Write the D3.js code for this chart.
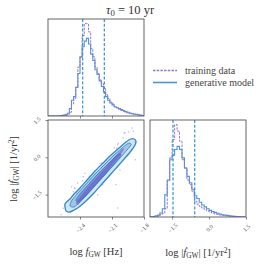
<!DOCTYPE html>
<html><head><meta charset="utf-8">
<script src="https://cdn.jsdelivr.net/npm/d3@7"></script>
<style>body{margin:0;background:#fff}</style>
</head><body>
<svg id="c" width="266" height="266" xmlns="http://www.w3.org/2000/svg"></svg>
<script>
// ---------------- DATA ----------------
const fDomain = [-2.7, -1.8];          // log f_GW
const fdotDomain = [-2.4, 1.5];        // log |fdot_GW|
const fTicks = [-2.4, -2.1, -1.8];
const fdotTicks = [-1.5, 0.0, 1.5];
const histMax = 105;

// marginal histogram of log f_GW (bin width 0.02 starting at -2.70)
const fBinStart = -2.7, fBinWidth = 0.02;
const fTrain = [0,0,0,0,0,0,0,0.3,0.8,1.8,4,13,19,31,53,64,87,100,100,91,73,64,53,46,39,35,30,23,19,15,13,10,9,7.5,6,5,4,3.2,2.8,2.5,2,1.5,1,0.6,0.3];
const fGen   = [0,0,0,0,0,0.2,0.5,1,1.5,3,8,17,21,31,46,64,75,81,84,78,67,60,50,45,38,32,26,21,17,14,12,10,9,8,7,6,4.7,4,3.2,2.5,2,1.8,1.4,1,0.6];
const fQuant = [-2.375, -2.172];

// marginal histogram of log |fdot_GW| (bin width 0.1 starting at -2.4)
const dBinStart = -2.4, dBinWidth = 0.1;
const dTrain = [0,0.3,0.5,1,2.5,4,9,39,64,84,100,93,82,62,53,40,35,28,17,14,11.5,9.7,8,6.5,5.4,4.3,3.6,2.9,2.2,1.8,1.4,1.1,0.8,0.5,0.3,0.2,0.1,0,0];
const dGen   = [0.3,0.6,1.2,2,4.3,9,24,40,62,67,73,76.5,73,64,53,44,37,30,23,20,16,13,11,9,7.2,6,5,4,3.2,2.5,2,1.8,1.4,1,0.7,0.4,0.2,0.1,0];
const dQuant = [-1.465, -0.583];

// 2D density contours of the generative model (data coords [logf, logfdot])
const contourOuter = [[-2.531,-2.159],[-2.541,-1.878],[-2.494,-1.676],[-2.456,-1.475],[-2.400,-1.234],[-2.334,-0.913],[-2.259,-0.551],[-2.184,-0.229],[-2.109,0.093],[-2.034,0.374],[-1.969,0.615],[-1.922,0.736],[-1.894,0.736],[-1.875,0.656],[-1.884,0.495],[-1.922,0.254],[-1.978,-0.028],[-2.044,-0.350],[-2.119,-0.711],[-2.194,-1.073],[-2.269,-1.435],[-2.344,-1.757],[-2.409,-1.998],[-2.456,-2.119],[-2.494,-2.199]];
const contourMiddle = [[-2.494,-1.958],[-2.475,-1.717],[-2.419,-1.435],[-2.344,-1.073],[-2.259,-0.671],[-2.175,-0.309],[-2.091,0.052],[-2.016,0.334],[-1.959,0.535],[-1.931,0.575],[-1.922,0.495],[-1.959,0.294],[-2.025,-0.028],[-2.100,-0.390],[-2.184,-0.792],[-2.269,-1.194],[-2.344,-1.556],[-2.409,-1.837],[-2.456,-1.998]];
const contourInner = [[-2.438,-1.717],[-2.400,-1.475],[-2.325,-1.114],[-2.241,-0.712],[-2.156,-0.350],[-2.081,-0.028],[-2.034,0.133],[-2.016,0.093],[-2.063,-0.189],[-2.138,-0.551],[-2.222,-0.953],[-2.306,-1.355],[-2.372,-1.636],[-2.419,-1.797]];
// dense core of the training samples
const trainCore = [[-2.438,-1.837],[-2.400,-1.596],[-2.325,-1.194],[-2.241,-0.796],[-2.156,-0.390],[-2.081,-0.028],[-2.016,0.294],[-1.988,0.374],[-1.997,0.254],[-2.053,-0.068],[-2.128,-0.470],[-2.213,-0.913],[-2.297,-1.315],[-2.372,-1.676],[-2.419,-1.918]];
// individual training samples outside the dense core
const trainPts = [[-1.985,0.977],[-1.943,1.017],[-1.900,1.046],[-1.994,0.776],[-2.047,0.507],[-2.078,0.374],[-1.882,-0.096],[-2.063,-1.101],[-2.047,-2.038],[-2.578,-2.308],[-2.453,-1.234],[-2.422,-1.033],[-2.375,-0.941],[-2.313,-0.764],[-2.234,-1.504],[-2.187,-1.101],[-1.913,1.178],[-2.478,-1.182],[-2.447,-1.246],[-2.463,-1.383],[-2.431,-1.447],[-2.353,-0.643],[-2.369,-0.780],[-2.557,-2.050],[-2.213,-0.241],[-2.150,-0.108],[-1.978,0.989],[-1.947,0.696],[-1.884,0.627],[-2.041,0.563],[-2.056,0.362],[-2.197,-0.241],[-2.025,-0.510],[-1.915,0.294]];

const legendLabels = ["training data", "generative model"];

// ---------------- STYLE ----------------
const cTrain = "#9b72cf", cGen = "#4a97d6", cQuant = "#3a8fd0", cFrame = "#555", cText = "#333";
const serif = "'Liberation Serif','DejaVu Serif',serif";

const svg = d3.select("#c");
const P = {tl:{x:48,y:19,w:96,h:97}, bl:{x:48,y:120,w:96,h:97}, br:{x:150,y:120,w:96,h:97}};

const xF  = d3.scaleLinear().domain(fDomain).range([P.bl.x, P.bl.x+P.bl.w]);
const yD  = d3.scaleLinear().domain(fdotDomain).range([P.bl.y+P.bl.h, P.bl.y]);
const xD  = d3.scaleLinear().domain(fdotDomain).range([P.br.x, P.br.x+P.br.w]);
const yHt = d3.scaleLinear().domain([0,histMax]).range([P.tl.y+P.tl.h, P.tl.y]);
const yHb = d3.scaleLinear().domain([0,histMax]).range([P.br.y+P.br.h, P.br.y]);

const defs = svg.append("defs");
Object.entries(P).forEach(([k,p])=>{
  defs.append("clipPath").attr("id","clip-"+k).append("rect").attr("x",p.x).attr("y",p.y).attr("width",p.w).attr("height",p.h);
});

function stepPts(start, width, counts){
  const pts = counts.map((c,i)=>[start+i*width, c]);
  pts.push([start+counts.length*width, counts[counts.length-1]]);
  return pts;
}
function drawHist(g, xs, ys, start, width, counts, color, dash, sw){
  const line = d3.line().x(d=>xs(d[0])).y(d=>ys(d[1])).curve(d3.curveStepAfter);
  g.append("path").attr("d", line(stepPts(start,width,counts)))
    .attr("fill","none").attr("stroke",color).attr("stroke-width",sw)
    .attr("stroke-dasharray", dash||null);
}
function drawQuant(g, xs, p, qs){
  qs.forEach(q=>{
    g.append("line").attr("x1",xs(q)).attr("x2",xs(q)).attr("y1",p.y).attr("y2",p.y+p.h)
      .attr("stroke",cQuant).attr("stroke-width",1.2).attr("stroke-dasharray","3,1.8");
  });
}
function frame(p){
  svg.append("rect").attr("x",p.x).attr("y",p.y).attr("width",p.w).attr("height",p.h)
    .attr("fill","none").attr("stroke",cFrame).attr("stroke-width",0.9);
}

// ---- top-left histogram ----
const gTL = svg.append("g").attr("clip-path","url(#clip-tl)");
drawHist(gTL, xF, yHt, fBinStart, fBinWidth, fGen, cGen, null, 1.1);
drawHist(gTL, xF, yHt, fBinStart, fBinWidth, fTrain, cTrain, "2.5,1.2", 1);
drawQuant(gTL, xF, P.tl, fQuant);

// ---- bottom-right histogram ----
const gBR = svg.append("g").attr("clip-path","url(#clip-br)");
drawHist(gBR, xD, yHb, dBinStart, dBinWidth, dGen, cGen, null, 1.1);
drawHist(gBR, xD, yHb, dBinStart, dBinWidth, dTrain, cTrain, "2.5,1.2", 1);
drawQuant(gBR, xD, P.br, dQuant);

// ---- bottom-left 2D ----
const gBL = svg.append("g").attr("clip-path","url(#clip-bl)");
const area = d3.line().x(d=>xF(d[0])).y(d=>yD(d[1])).curve(d3.curveCardinalClosed.tension(0.3));
gBL.append("path").attr("d",area(contourOuter)).attr("fill","#d3e4f4");
gBL.append("path").attr("d",area(contourMiddle)).attr("fill","#9fc6e9");
gBL.append("path").attr("d",area(contourInner)).attr("fill","#6aa3da");
gBL.selectAll("circle.tp").data(trainPts).join("circle").attr("class","tp")
  .attr("cx",d=>xF(d[0])).attr("cy",d=>yD(d[1])).attr("r",0.7)
  .attr("fill",cTrain).attr("opacity",0.55);
gBL.append("path").attr("d",area(trainCore)).attr("fill","#7a3fc2").attr("opacity",0.5);
gBL.append("path").attr("d",area(contourInner)).attr("fill","none").attr("stroke","#2f6fb5").attr("stroke-width",0.7);
gBL.append("path").attr("d",area(contourMiddle)).attr("fill","none").attr("stroke","#2f7fc2").attr("stroke-width",0.8);
gBL.append("path").attr("d",area(contourOuter)).attr("fill","none").attr("stroke","#2e88c9").attr("stroke-width",1.3);

// ---- frames ----
Object.values(P).forEach(frame);

// ---- axes ----
const fmt = d3.format(".1f");
function xAxis(scale, p, ticks, labels){
  const g = svg.append("g").attr("transform",`translate(0,${p.y+p.h})`)
    .call(d3.axisBottom(scale).tickValues(ticks).tickSize(2.5).tickFormat(labels?fmt:""));
  g.select(".domain").remove();
  g.selectAll("line").attr("stroke",cFrame).attr("stroke-width",0.7);
  g.selectAll("text").attr("y",0).attr("dy","0.35em").attr("text-anchor","middle")
    .attr("transform","translate(0,11) rotate(-45)")
    .attr("font-family",serif).attr("font-size",5.8).attr("fill","#555");
  return g;
}
function yAxis(scale, p, ticks){
  const g = svg.append("g").attr("transform",`translate(${p.x},0)`)
    .call(d3.axisLeft(scale).tickValues(ticks).tickSize(2.5).tickFormat(fmt));
  g.select(".domain").remove();
  g.selectAll("line").attr("stroke",cFrame).attr("stroke-width",0.7);
  g.selectAll("text").attr("x",0).attr("dy","0.35em").attr("text-anchor","middle")
    .attr("transform","translate(-11,0) rotate(-45)")
    .attr("font-family",serif).attr("font-size",5.8).attr("fill","#555");
}
xAxis(xF, P.tl, fTicks.slice(0,2), false);
xAxis(xF, P.bl, fTicks, true);
xAxis(xD, P.br, fdotTicks, true);
yAxis(yD, P.bl, fdotTicks);

// ---- labels ----
function richText(sel, parts){
  parts.forEach(pt=>{
    const t = sel.append("tspan").text(pt.t);
    if(pt.i) t.attr("font-style","italic");
    if(pt.sub) t.attr("baseline-shift","-25%").attr("font-size","70%");
    if(pt.sup) t.attr("baseline-shift","40%").attr("font-size","70%");
  });
}
const fLabel = [{t:"log "},{t:"f",i:1},{t:"GW",sub:1},{t:" [Hz]"}];
const dLabel = [{t:"log |"},{t:"ḟ",i:1},{t:"GW",sub:1},{t:"| [1/yr"},{t:"2",sup:1},{t:"]"}];

richText(svg.append("text").attr("x",96).attr("y",255).attr("text-anchor","middle")
  .attr("font-family",serif).attr("font-size",10.5).attr("fill",cText), fLabel);
richText(svg.append("text").attr("x",198).attr("y",256).attr("text-anchor","middle")
  .attr("font-family",serif).attr("font-size",10.5).attr("fill",cText), dLabel);
richText(svg.append("text").attr("transform","translate(17,169) rotate(-90)").attr("text-anchor","middle")
  .attr("font-family",serif).attr("font-size",10.5).attr("fill",cText), dLabel);

// title
richText(svg.append("text").attr("x",130).attr("y",14).attr("text-anchor","middle")
  .attr("font-family",serif).attr("font-size",12.5).attr("fill",cText),
  [{t:"τ",i:1},{t:"0",sub:1},{t:" = 10 yr"}]);

// legend
const leg = svg.append("g");
[[cTrain,"2.5,1.2",70.5],[cGen,null,82.5]].forEach((s,i)=>{
  leg.append("line").attr("x1",153).attr("x2",177).attr("y1",s[2]).attr("y2",s[2])
    .attr("stroke",s[0]).attr("stroke-width",1.6).attr("stroke-dasharray",s[1]);
  leg.append("text").attr("x",185).attr("y",s[2]).attr("dy","0.32em")
    .attr("font-family",serif).attr("font-size",10).attr("fill","#444").text(legendLabels[i]);
});
</script>
</body></html>
